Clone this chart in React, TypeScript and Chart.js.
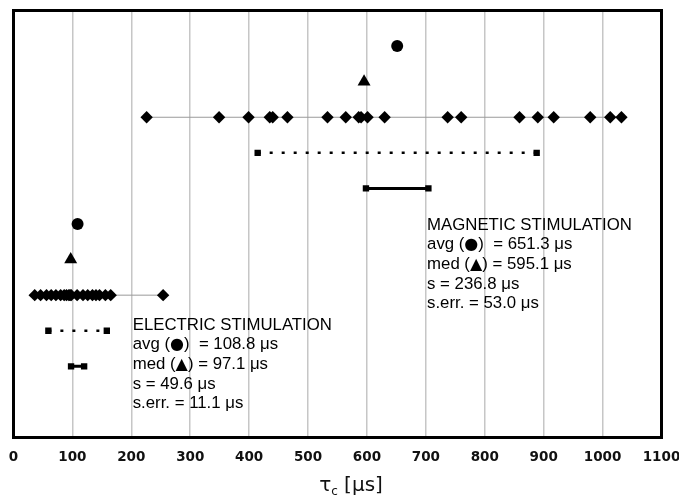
import { useEffect, useRef } from "react";
import { Chart, registerables } from "chart.js";

Chart.register(...registerables);

// ---- data ----
const xTickValues = [0, 100, 200, 300, 400, 500, 600, 700, 800, 900, 1000, 1100];

const magneticTimes = [226, 349, 399, 435, 440, 465, 533, 564, 586, 590, 601, 630, 737, 760, 859, 890, 917, 979, 1013, 1032];
const electricTimes = [36, 46, 56, 64, 72, 80, 86, 90, 94, 96, 98, 108, 118, 126, 134, 140, 146, 156, 165, 254];

// avg, med, s, s.err (µs)
const magneticStats = [651.3, 595.1, 236.8, 53.0];
const electricStats = [108.8, 97.1, 49.6, 11.1];

// row levels: avg, median, samples, ±s, ±s.err
const magneticRows = [11, 10, 9, 8, 7];
const electricRows = [6, 5, 4, 3, 2];

const magneticTitle = "MAGNETIC STIMULATION";
const electricTitle = "ELECTRIC STIMULATION";

function groupDatasets(times: number[], stats: number[], rows: number[]) {
  const [avg, med, sd, se] = stats;
  const [rAvg, rMed, rPts, rSd, rSe] = rows;
  const min = Math.min(...times);
  const max = Math.max(...times);
  return [
    {
      type: "scatter" as const,
      data: [{ x: min, y: rPts }, { x: max, y: rPts }],
      showLine: true,
      borderColor: "#9a9a9a",
      borderWidth: 1,
      pointRadius: 0,
      order: 10,
    },
    {
      type: "scatter" as const,
      data: times.map((t) => ({ x: t, y: rPts })),
      pointStyle: "rectRot",
      pointRadius: 6.2,
      pointBackgroundColor: "#000",
      pointBorderWidth: 0,
      order: 1,
    },
    {
      type: "scatter" as const,
      data: [{ x: avg, y: rAvg }],
      pointStyle: "circle",
      pointRadius: 6,
      pointBackgroundColor: "#000",
      pointBorderWidth: 0,
      order: 1,
    },
    {
      type: "scatter" as const,
      data: [{ x: med, y: rMed }],
      pointStyle: "triangle",
      pointRadius: 7.5,
      pointBackgroundColor: "#000",
      pointBorderWidth: 0,
      order: 1,
    },
    {
      type: "scatter" as const,
      data: [{ x: avg - sd, y: rSd }, { x: avg + sd, y: rSd }],
      showLine: true,
      borderColor: "#000",
      borderWidth: 2.5,
      borderDash: [3, 9],
      pointStyle: "rect",
      pointRadius: 4.5,
      pointBackgroundColor: "#000",
      pointBorderWidth: 0,
      order: 2,
    },
    {
      type: "scatter" as const,
      data: [{ x: avg - se, y: rSe }, { x: avg + se, y: rSe }],
      showLine: true,
      borderColor: "#000",
      borderWidth: 3,
      pointStyle: "rect",
      pointRadius: 4.5,
      pointBackgroundColor: "#000",
      pointBorderWidth: 0,
      order: 2,
    },
  ];
}

function statLines(title: string, stats: number[]) {
  return [
    title,
    `avg (\u25CF)  = ${stats[0].toFixed(1)} \u03BCs`,
    `med (\u25B2) = ${stats[1].toFixed(1)} \u03BCs`,
    `s = ${stats[2].toFixed(1)} \u03BCs`,
    `s.err. = ${stats[3].toFixed(1)} \u03BCs`,
  ];
}

const TEXT_FONT = "16.8px 'Liberation Sans', Arial, sans-serif";
const SYMBOL_FONT = "16px 'DejaVu Sans', sans-serif";

function drawMixed(ctx: CanvasRenderingContext2D, line: string, x: number, y: number) {
  let cur = x;
  let buf = "";
  const flush = () => {
    if (!buf) return;
    ctx.font = TEXT_FONT;
    ctx.fillText(buf, cur, y);
    cur += ctx.measureText(buf).width;
    buf = "";
  };
  for (const ch of line) {
    if (ch === "\u25CF" || ch === "\u25B2") {
      flush();
      ctx.font = SYMBOL_FONT;
      const w = ctx.measureText(ch).width;
      ctx.fillText(ch, cur, y + 0.5);
      cur += w;
    } else {
      buf += ch;
    }
  }
  flush();
}

const framePlugin = {
  id: "frame",
  afterDraw(chart: any) {
    const { ctx, chartArea: ca } = chart;
    ctx.save();
    ctx.strokeStyle = "#000";
    ctx.lineWidth = 3;
    ctx.strokeRect(ca.left, ca.top, ca.right - ca.left, ca.bottom - ca.top);
    ctx.restore();
  },
};

const textPlugin = {
  id: "statText",
  afterDraw(chart: any) {
    const { ctx, chartArea: ca } = chart;
    const xs = chart.scales.x;
    const blocks = [
      { lines: statLines(magneticTitle, magneticStats), x: xs.getPixelForValue(700) + 1.2, y: ca.top + 214.5 },
      { lines: statLines(electricTitle, electricStats), x: xs.getPixelForValue(200) + 1.4, y: ca.top + 314.5 },
    ];
    ctx.save();
    ctx.fillStyle = "#000";
    ctx.textBaseline = "middle";
    ctx.textAlign = "left";
    for (const b of blocks) {
      b.lines.forEach((line, i) => {
        drawMixed(ctx, line, b.x, b.y + i * 19.7);
      });
    }
    // axis title: tau with subscript c
    const cx = (ca.left + ca.right) / 2 + 13.5;
    const cy = 486;
    const big = "20px 'DejaVu Sans', sans-serif";
    const small = "12px 'DejaVu Sans', sans-serif";
    ctx.font = big;
    const wTau = ctx.measureText("\u03C4").width;
    const rest = " [\u03BCs]";
    const wRest = ctx.measureText(rest).width;
    ctx.font = small;
    const wSub = ctx.measureText("c").width;
    const total = wTau + wSub + wRest;
    let x = cx - total / 2;
    ctx.fillStyle = "#111";
    ctx.font = big;
    ctx.fillText("\u03C4", x, cy);
    x += wTau;
    ctx.font = small;
    ctx.fillText("c", x, cy + 6);
    x += wSub;
    ctx.font = big;
    ctx.fillText(rest, x, cy);
    ctx.restore();
  },
};

export default function App() {
  const ref = useRef<HTMLCanvasElement | null>(null);

  useEffect(() => {
    if (!ref.current) return;
    const chart = new Chart(ref.current, {
      type: "scatter",
      data: {
        datasets: [
          ...groupDatasets(magneticTimes, magneticStats, magneticRows),
          ...groupDatasets(electricTimes, electricStats, electricRows),
        ] as any,
      },
      options: {
        animation: false,
        responsive: false,
        devicePixelRatio: 1,
        layout: { padding: { left: 13.5, top: 10.5, right: 17.5, bottom: 0 } },
        plugins: {
          legend: { display: false },
          tooltip: { enabled: false },
        },
        scales: {
          x: {
            type: "linear",
            min: xTickValues[0],
            max: xTickValues[xTickValues.length - 1],
            afterBuildTicks: (scale: any) => {
              scale.ticks = xTickValues.map((v) => ({ value: v }));
            },
            afterFit: (scale: any) => {
              scale.height = 59.5;
              scale.paddingLeft = 0;
              scale.paddingRight = 0;
            },
            grid: {
              color: "#c6c6c6",
              lineWidth: 1.5,
              drawTicks: false,
            },
            border: { display: false },
            ticks: {
              padding: 12,
              color: "#111",
              font: { family: "'DejaVu Sans', sans-serif", size: 13.5, weight: "bold" },
              maxRotation: 0,
              autoSkip: false,
              callback: (v: any) => String(v),
            },
          },
          y: {
            type: "linear",
            display: false,
            min: 0,
            max: 12,
          },
        },
      },
      plugins: [framePlugin, textPlugin],
    });
    return () => chart.destroy();
  }, []);

  return (
    <div style={{ position: "absolute", left: 0, top: 0, width: 679, height: 497, background: "#fff" }}>
      <canvas ref={ref} width={679} height={497} style={{ display: "block" }} />
    </div>
  );
}
